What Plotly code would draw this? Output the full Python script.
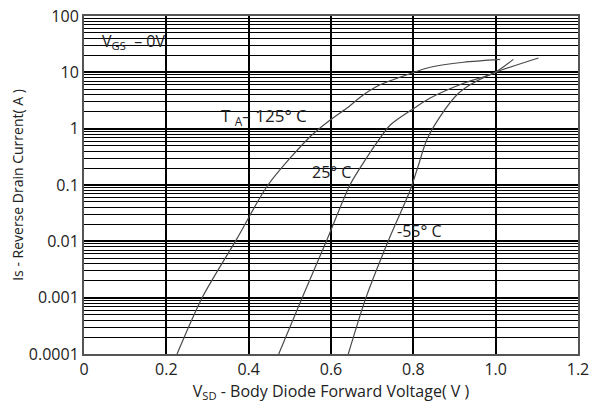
import plotly.graph_objects as go

# Data
v_125 = [0.226, 0.287, 0.372, 0.447, 0.549, 0.598, 0.638, 0.679, 0.719, 0.796, 0.841, 0.922, 1.011]
i_125 = [1e-4, 1e-3, 1.13e-2, 0.1, 0.72, 1.43, 2.3, 4.0, 6.0, 9.7, 12.3, 15.1, 17]

v_25 = [0.473, 0.530, 0.591, 0.646, 0.679, 0.711, 0.744, 0.796, 0.841, 0.922, 0.995, 1.043]
i_25 = [1e-4, 1e-3, 1.1e-2, 0.1, 0.25, 0.56, 1.16, 2.16, 3.5, 6.4, 9.7, 17]

v_m55 = [0.642, 0.685, 0.741, 0.792, 0.812, 0.833, 0.865, 0.906, 0.938, 0.995, 1.104]
i_m55 = [1e-4, 1e-3, 1.1e-2, 0.08, 0.22, 0.64, 1.64, 4.0, 6.0, 9.7, 18]

x_ticks = [0, 0.2, 0.4, 0.6, 0.8, 1.0, 1.2]
x_tick_labels = ["0", "0.2", "0.4", "0.6", "0.8", "1.0", "1.2"]
y_ticks = [0.0001, 0.001, 0.01, 0.1, 1, 10, 100]
y_tick_labels = ["0.0001", "0.001", "0.01", "0.1", "1", "10", "100"]

FONT = "Open Sans"
fig = go.Figure()
for v, i in [(v_125, i_125), (v_25, i_25), (v_m55, i_m55)]:
    fig.add_trace(go.Scatter(x=v, y=i, mode="lines",
                             line=dict(color="#4a4a4a", width=1.2, shape="spline", smoothing=0.8),
                             showlegend=False, hoverinfo="skip"))

ann_font = dict(family=FONT, size=16, color="#222")
fig.add_annotation(x=0.12, y=1.55, xref="x", yref="y", text="V<sub>GS</sub>  – 0V", showarrow=False, font=ann_font)
fig.add_annotation(x=0.437, y=0.215, xref="x", yref="y", text="T <sub>A</sub>– 125° C", showarrow=False,
                   font=dict(family=FONT, size=17, color="#222"))
fig.add_annotation(x=0.6, y=-0.77, xref="x", yref="y", text="25° C", showarrow=False, font=ann_font)
fig.add_annotation(x=0.816, y=-1.82, xref="x", yref="y", text="-55° C", showarrow=False, font=ann_font)

fig.update_layout(
    width=589, height=395,
    margin=dict(l=76, r=19, t=8, b=49),
    paper_bgcolor="white", plot_bgcolor="white",
    font=dict(family=FONT, size=16, color="#222"),
    xaxis=dict(range=[0, 1.2], tickvals=x_ticks, ticktext=x_tick_labels,
               showgrid=True, gridcolor="black", gridwidth=1.6,
               showline=True, mirror=True, linecolor="#555", linewidth=2,
               zeroline=False, ticks="", ticklen=0, automargin=False,
               ticklabeloverflow="allow",
               tickfont=dict(size=16),
               title=dict(text="V<sub>SD</sub> - Body Diode Forward Voltage( V )", standoff=4,
                          font=dict(size=16))),
    yaxis=dict(type="log", range=[-4, 2], tickvals=y_ticks, ticktext=y_tick_labels,
               showgrid=True, gridcolor="black", gridwidth=1.8,
               minor=dict(showgrid=True, dtick="D1", gridcolor="black", gridwidth=1.2),
               showline=True, mirror=True, linecolor="#555", linewidth=2,
               zeroline=False, ticks="", ticklen=0, automargin=False,
               ticklabeloverflow="allow",
               tickfont=dict(size=16),
               title=dict(text="Is - Reverse Drain Current( A )", standoff=6, font=dict(size=14))),
)

fig.write_html("out.html")
